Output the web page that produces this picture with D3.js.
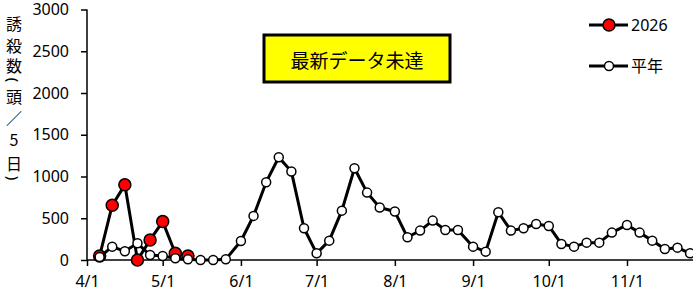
<!DOCTYPE html>
<html>
<head>
<meta charset="utf-8">
<script src="https://cdn.jsdelivr.net/npm/d3@7"></script>
<style>
  body { margin: 0; background: #fff; }
  text { font-family: "Noto Sans", "Noto Sans CJK JP", sans-serif; }
</style>
</head>
<body>
<div id="chart"></div>
<script>
// 5-day periods (start date of each period)
const periods = [
  "4/6","4/11","4/16","4/21","4/26",
  "5/1","5/6","5/11","5/16","5/21","5/26",
  "6/1","6/6","6/11","6/16","6/21","6/26",
  "7/1","7/6","7/11","7/16","7/21","7/26",
  "8/1","8/6","8/11","8/16","8/21","8/26",
  "9/1","9/6","9/11","9/16","9/21","9/26",
  "10/1","10/6","10/11","10/16","10/21","10/26",
  "11/1","11/6","11/11","11/16","11/21","11/26"
]

// 平年 values
const normalValues = [
  35, 160, 104, 200, 60,
  48, 20, 8, 0, 0, 8,
  228, 528, 932, 1231, 1059, 380,
  80, 232, 591, 1099, 807, 628,
  580, 272, 352, 472, 360, 360,
  160, 100, 572, 352, 380, 432,
  408, 192, 160, 208, 208, 328,
  420, 328, 232, 132, 148, 80
]

// 2026 values (up to latest available)
const currentValues = [48, 656, 900, 0, 240, 460, 80, 48]

const yTicks = [0, 500, 1000, 1500, 2000, 2500, 3000]
const monthTicks = ["4/1","5/1","6/1","7/1","8/1","9/1","10/1","11/1"]

const yLabelChars = ["誘","殺","数","(","頭","／","5","日",")"]
const noticeText = "最新データ未達"
const seriesNames = ["2026", "平年"]

const width = 693, height = 300

const parseDate = s => {
  let [m, d] = s.split("/").map(Number)
  return new Date(2026, m - 1, d)
}

const svg = d3.select("#chart").append("svg")
  .attr("width", width)
  .attr("height", height)

// Scales
const x = d3.scaleTime()
  .domain([parseDate("4/1"), parseDate("11/1")])
  .range([87, 627])

const y = d3.scaleLinear()
  .domain([0, 3000])
  .range([260, 9.5])

// Y axis
const yAxis = svg.append("g")
  .attr("transform", "translate(87,0)")
  .call(d3.axisLeft(y).tickValues(yTicks).tickFormat(d3.format("d")).tickSize(6).tickPadding(12))
yAxis.select(".domain").attr("stroke", "#000").attr("stroke-width", 1.5)
  .attr("d", `M0,${y(3000)}V${y(0)}`)
yAxis.selectAll(".tick line").attr("stroke", "#000").attr("stroke-width", 1.5)
yAxis.selectAll(".tick text")
  .style("font-size", "16px")
  .attr("fill", "#000")

// X axis
const xEnd = x(parseDate("12/1"))
const xAxis = svg.append("g")
  .attr("transform", "translate(0,260)")
  .call(d3.axisBottom(x)
    .tickValues(monthTicks.map(parseDate))
    .tickFormat(d => (d.getMonth() + 1) + "/" + d.getDate())
    .tickSize(6).tickPadding(10))
xAxis.select(".domain").attr("stroke", "#000").attr("stroke-width", 1.5)
  .attr("d", `M${x(parseDate("4/1"))},0H${xEnd}`)
xAxis.selectAll(".tick line").attr("stroke", "#000").attr("stroke-width", 1.5)
xAxis.selectAll(".tick text")
  .style("font-size", "16px")
  .attr("fill", "#000")

// Y axis title (vertical, one char per line; brackets turned for vertical writing)
const charY = [23, 45, 65, 80, 96, 117, 139, 163, 178]
svg.append("g").selectAll("text")
  .data(yLabelChars)
  .join("text")
  .attr("text-anchor", "middle")
  .attr("dominant-baseline", "central")
  .attr("transform", (d, i) => `translate(14,${charY[i]})` + ((d == "(" || d == ")") ? " rotate(90)" : ""))
  .style("font-family", (d) => (d == "(" || d == ")") ? "'Noto Sans', sans-serif" : "'Noto Sans CJK JP', sans-serif")
  .style("font-size", (d) => (d == "(" || d == ")") ? "15px" : "16px")
  .text(d => d)

// Series data
const normalData = periods.map((p, i) => ({date: parseDate(p), value: normalValues[i]}))
const currentData = currentValues.map((v, i) => ({date: parseDate(periods[i]), value: v}))

const line = d3.line()
  .x(d => x(d.date))
  .y(d => y(d.value))

// 2026 series
svg.append("path")
  .datum(currentData)
  .attr("fill", "none")
  .attr("stroke", "#000")
  .attr("stroke-width", 3)
  .attr("stroke-linejoin", "round")
  .attr("d", line)

svg.append("g").selectAll("circle")
  .data(currentData)
  .join("circle")
  .attr("cx", d => x(d.date))
  .attr("cy", d => y(d.value))
  .attr("r", 6)
  .attr("fill", "#ff0000")
  .attr("stroke", "#000")
  .attr("stroke-width", 1.5)

// 平年 series (drawn on top)
svg.append("path")
  .datum(normalData)
  .attr("fill", "none")
  .attr("stroke", "#000")
  .attr("stroke-width", 3)
  .attr("stroke-linejoin", "round")
  .attr("d", line)

svg.append("g").selectAll("circle")
  .data(normalData)
  .join("circle")
  .attr("cx", d => x(d.date))
  .attr("cy", d => y(d.value))
  .attr("r", 4.5)
  .attr("fill", "#fff")
  .attr("stroke", "#000")
  .attr("stroke-width", 1.5)

// Notice box
svg.append("rect")
  .attr("x", 264)
  .attr("y", 35)
  .attr("width", 186)
  .attr("height", 47)
  .attr("fill", "#ffff00")
  .attr("stroke", "#000")
  .attr("stroke-width", 3)

svg.append("text")
  .attr("x", 357)
  .attr("y", 59)
  .attr("text-anchor", "middle")
  .attr("dominant-baseline", "central")
  .style("font-family", "'Noto Sans CJK JP', sans-serif")
  .style("font-size", "19px")
  .text(noticeText)

// Legend
const legend = svg.append("g")
seriesNames.forEach((name, i) => {
  let ly = [25, 66][i]
  legend.append("line")
    .attr("x1", 589).attr("x2", 628)
    .attr("y1", ly).attr("y2", ly)
    .attr("stroke", "#000")
    .attr("stroke-width", 3)
  legend.append("circle")
    .attr("cx", 609).attr("cy", ly)
    .attr("r", i == 0 ? 6 : 4.5)
    .attr("fill", i == 0 ? "#ff0000" : "#fff")
    .attr("stroke", "#000")
    .attr("stroke-width", 1.5)
  legend.append("text")
    .attr("x", 631).attr("y", ly)
    .attr("dominant-baseline", "central")
    .style("font-family", "'Noto Sans', 'Noto Sans CJK JP', sans-serif")
    .style("font-size", "16px")
    .text(name)
})
</script>
</body>
</html>
